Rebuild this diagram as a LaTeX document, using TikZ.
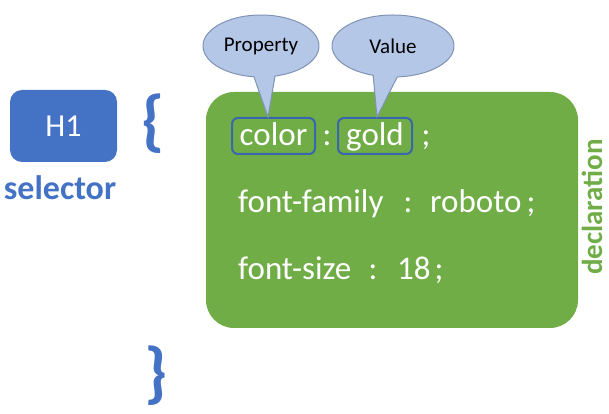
\documentclass[tikz,border=0pt]{standalone}
\usepackage{fontspec}
\setmainfont{Carlito}
\usetikzlibrary{calc}
\definecolor{obl}{HTML}{4472C4}
\definecolor{ogr}{HTML}{70AD47}
\definecolor{calfill}{HTML}{B4C7E7}
\definecolor{calline}{HTML}{7F93B5}
\definecolor{wbox}{HTML}{3A66AE}
\tikzset{
  code/.style={text=white, font=\fontsize{33}{38}\selectfont, inner sep=0pt},
  wordbox/.style={draw=wbox, line width=2pt, rounded corners=6pt, minimum height=36pt, inner sep=0pt},
  callout/.style={fill=calfill, draw=calline, line width=1pt},
  calltext/.style={font=\fontsize{21}{24}\selectfont, text=black},
  brace/.style={text=obl, font=\fontsize{68}{74}\selectfont\bfseries, inner sep=0pt}
}
\begin{document}
\begin{tikzpicture}[x=1pt,y=1pt]
\useasboundingbox (0,0) rectangle (609,414);
% selector
\node[fill=obl, rounded corners=12pt, minimum width=107pt, minimum height=72pt, text=white, font=\fontsize{32}{36}\selectfont] (h1) at (63.5,288) {H1};
\node[text=obl, font=\fontsize{34}{40}\selectfont\bfseries, anchor=base, inner sep=0pt] (sel) at (60,214) {selector};
\node[brace] (lb) at (153,290) {\{};
\node[brace] (rb) at (156,38) {\}};
% declaration block
\node[fill=ogr, rounded corners=28pt, minimum width=372pt, minimum height=236pt] (blk) at (392,204) {};
\node[text=ogr, rotate=90, inner sep=0pt, font=\fontsize{29}{33}\selectfont\bfseries] (decl) at (592,207) {declaration};
% line 1
\node[wordbox, minimum width=83pt] (prop) at (273.5,278) {};
\node[code, anchor=base] (ptx) at (prop.center |- 0,268) {color};
\node[code, anchor=base] (c1) at (327,268) {:};
\node[wordbox, minimum width=74pt] (val) at (375,278) {};
\node[code, anchor=base] (vtx) at (val.center |- 0,268) {gold};
\node[code, anchor=base] (s1) at (426,268) {;};
% line 2
\node[code, anchor=base west] (l2a) at (238,201) {font-family};
\node[code, anchor=base] (l2b) at (408,201) {:};
\node[code, anchor=base west] (l2c) at (430,201) {roboto};
\node[code, anchor=base] (l2d) at (531,201) {;};
% line 3
\node[code, anchor=base west] (l3a) at (238,134) {font-size};
\node[code, anchor=base] (l3b) at (373,134) {:};
\node[code, anchor=base west] (l3c) at (397,134) {18};
\node[code, anchor=base] (l3d) at (439,134) {;};
% callouts
\coordinate (pc) at (261,368);
\coordinate (ptip) at (268,297);
\draw[callout] ($(pc)+(284:58 and 31)$) arc[start angle=284, end angle=623, x radius=58, y radius=31] -- (ptip) -- cycle;
\node[calltext] (ptxt) at (pc) {Property};
\coordinate (vc) at (393,368);
\coordinate (vtip) at (377,297);
\draw[callout] ($(vc)+(274:61 and 31)$) arc[start angle=274, end angle=611, x radius=61, y radius=31] -- (vtip) -- cycle;
\node[calltext] (vtxt) at (vc) {Value};
\end{tikzpicture}
\end{document}
